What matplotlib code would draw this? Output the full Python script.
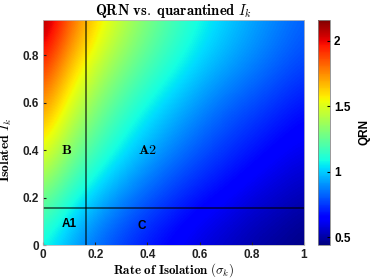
import numpy as np
import matplotlib
matplotlib.use("Agg")
import matplotlib.pyplot as plt

plt.rcParams['mathtext.fontset'] = 'cm'
plt.rcParams['font.family'] = ['Liberation Sans', 'DejaVu Sans']

# grid
sigma = [0.0, 0.1, 0.2, 0.3, 0.4, 0.5, 0.6, 0.7, 0.8, 0.9, 1.0]
iso = [0.0, 0.19, 0.38, 0.57, 0.76, 0.95]
qrn = [
    [1.07, 0.94, 0.83, 0.75, 0.68, 0.63, 0.58, 0.54, 0.50, 0.47, 0.44],
    [1.27, 1.11, 0.98, 0.88, 0.80, 0.73, 0.67, 0.63, 0.58, 0.55, 0.51],
    [1.52, 1.31, 1.16, 1.04, 0.94, 0.86, 0.79, 0.73, 0.68, 0.63, 0.60],
    [1.74, 1.49, 1.31, 1.17, 1.06, 0.97, 0.89, 0.82, 0.77, 0.72, 0.67],
    [1.94, 1.67, 1.47, 1.32, 1.20, 1.10, 1.01, 0.94, 0.88, 0.82, 0.77],
    [2.16, 1.85, 1.62, 1.45, 1.31, 1.19, 1.09, 1.01, 0.94, 0.88, 0.82],
]
sigma_c = 0.165
iso_c = 0.157
regions = ["B", "A2", "A1", "C"]
region_x = [0.09, 0.40, 0.10, 0.38]
region_y = [0.40, 0.40, 0.09, 0.08]
region_serif = [True, True, False, False]

Q = np.array(qrn)
ds = (sigma[1] - sigma[0]) / 2
di = (iso[1] - iso[0]) / 2

fig = plt.figure(figsize=(3.74, 2.8), dpi=100)
ax = fig.add_axes([0.115, 0.125, 0.698, 0.804])
cax = fig.add_axes([0.850, 0.125, 0.032, 0.804])

img = ax.imshow(Q, origin='lower', cmap='jet', interpolation='bicubic',
                extent=[sigma[0] - ds, sigma[-1] + ds, iso[0] - di, iso[-1] + di],
                aspect='auto', vmin=Q.min(), vmax=Q.max())
ax.axvline(sigma_c, color='k', alpha=0.65, lw=1.2)
ax.axhline(iso_c, color='k', alpha=0.65, lw=1.2)

for name, x, y, serif in zip(regions, region_x, region_y, region_serif):
    if serif:
        ax.text(x, y, r'$\mathbf{%s}$' % name, ha='center', va='center', fontsize=10)
    else:
        ax.text(x, y, name, ha='center', va='center', fontsize=8.5, fontweight='bold')

ax.set_xlim(0, 1)
ax.set_ylim(0, 0.95)
ax.set_xticks([0, 0.2, 0.4, 0.6, 0.8, 1])
ax.set_xticklabels(['0', '0.2', '0.4', '0.6', '0.8', '1'])
ax.set_yticks([0, 0.2, 0.4, 0.6, 0.8])
ax.set_yticklabels(['0', '0.2', '0.4', '0.6', '0.8'])
ax.tick_params(direction='in', length=2, labelsize=8.5, colors='#222222', pad=3)
for lab in ax.get_xticklabels() + ax.get_yticklabels():
    lab.set_fontweight('bold')
for sp in ax.spines.values():
    sp.set_color('#bbbbbb')
    sp.set_linewidth(0.6)

ax.set_title(r'$\mathbf{QRN\ vs.\ quarantined}\ I_k$', fontsize=10.5, pad=3)
ax.set_xlabel(r'$\mathbf{Rate\ of\ Isolation}\ (\sigma_k)$', fontsize=9.3, labelpad=0)
ax.set_ylabel(r'$\mathbf{Isolated}\ I_k$', fontsize=9.8)
ax.yaxis.set_label_coords(-0.11, 0.42)

cb = fig.colorbar(img, cax=cax)
cb.set_ticks([0.5, 1, 1.5, 2])
cb.set_ticklabels(['0.5', '1', '1.5', '2'])
cb.ax.tick_params(direction='in', length=2, labelsize=8.5, pad=3)
for lab in cb.ax.get_yticklabels():
    lab.set_fontweight('bold')
cb.outline.set_edgecolor('#888888')
cb.outline.set_linewidth(0.6)
cb.set_label('QRN', fontsize=8.5, fontweight='bold', labelpad=6)

fig.savefig('out.png', dpi=100)
